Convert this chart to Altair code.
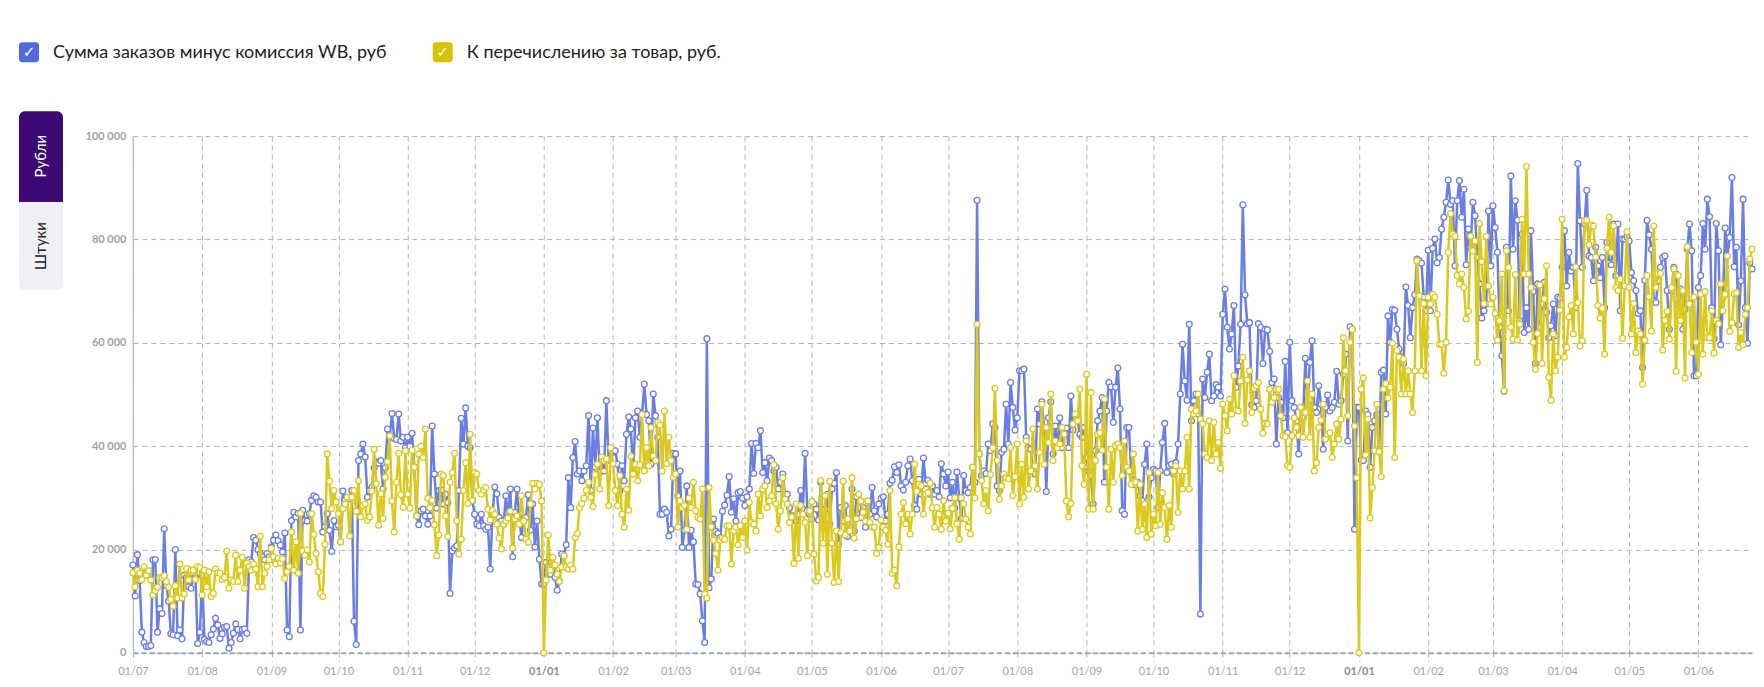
import altair as alt
import pandas as pd

BLUE = "#6b7ee3"
YELLOW = "#dcc91d"
GRID = "#a9b5bd"
FONT = "Lato, Noto Sans, sans-serif"

SERIES_BLUE = "Сумма заказов минус комиссия WB, руб"
SERIES_YEL = "К перечислению за товар, руб."

# daily values, thousands of rubles
blue_2022_07 = [17, 11, 19, 14, 4, 2, 1.2, 1.2, 1.4, 18, 18, 4, 8.5, 7.6, 24, 13, 10, 3.7, 3.5, 20, 3.3, 4.4, 2.7, 15, 14.6, 12.8, 12.5, 14.4, 14.6, 1.8, 4]
yel_2022_07 = [15.5, 12.8, 16, 15.4, 14.2, 16.7, 15, 15.9, 14.1, 11.2, 12, 12.7, 14.6, 14.6, 14.9, 13.8, 12.7, 10.3, 9, 13, 10.6, 17.2, 10.6, 11.4, 16.3, 14.1, 16, 16, 14.2, 16.7, 16.5]
blue_2022_08 = [15, 2.6, 2.2, 2, 3.5, 4.6, 6.7, 5.4, 2.8, 3.7, 5, 5.1, 0.9, 2, 3.8, 5.6, 4.5, 2.7, 4.5, 4.6, 3.8, 18, 17.6, 22.3, 21.8, 20, 19.2, 18.6, 18, 19.2, 18.6]
yel_2022_08 = [11.2, 16, 12.8, 15.7, 10.9, 11.5, 16.2, 15.5, 15.4, 14.2, 14.6, 19.7, 12.5, 14.1, 13.8, 18.9, 13.8, 16, 18.5, 12.5, 17.4, 16.7, 16, 17.2, 16.2, 12.8, 22.6, 12.8, 15.4, 16.7, 18]
blue_2022_09 = [20.5, 21.8, 22.8, 21.7, 20.8, 19.5, 23.2, 4.4, 3.1, 25.6, 27.2, 26.3, 27, 4.4, 27.6, 25.6, 25.5, 26.9, 29.5, 30.4, 30.1, 29.2, 29.2, 23.4, 24.4, 26.9, 23.7, 19.6, 25.6, 24.4]
yel_2022_09 = [20.2, 18.6, 17.2, 18.3, 17.4, 18.2, 14.4, 15.7, 16.7, 23.4, 16, 21.5, 15.4, 27, 19.7, 18.9, 19.9, 17.6, 26.9, 22.9, 19.2, 15.7, 11.5, 10.9, 21, 38.5, 33.2, 27.9, 31.4, 29.2]
blue_2022_10 = [24.7, 21.5, 31.3, 29.5, 30.1, 29.8, 31.4, 6.1, 1.6, 37.2, 38.5, 40.4, 37.9, 30.1, 31.4, 32.1, 35.8, 36.9, 36.7, 37.2, 31.7, 35.8, 43.3, 42, 46.3, 41.5, 41.3, 46.2, 41, 41.7, 39.7]
yel_2022_10 = [26.9, 21.5, 27.9, 28.8, 30.1, 22.6, 30.1, 31.4, 27.4, 33.3, 26.3, 28.5, 28.8, 25.6, 26.3, 31.3, 39.4, 32.7, 24.7, 30.8, 26, 34, 37, 42, 29.4, 23.4, 33, 38.6, 30.6, 28.2, 39.1]
blue_2022_11 = [41.7, 40, 42.5, 35.9, 26.5, 24.8, 27.5, 27.8, 26.5, 24.9, 26.5, 43.9, 34.6, 28, 31.4, 31.5, 28.8, 30.7, 29.1, 11.5, 19.7, 20.3, 20.7, 31.4, 45.4, 40.4, 47.4, 40, 39.7, 29.4]
yel_2022_11 = [30.7, 28, 39.2, 35.9, 26.5, 38.5, 40, 37.8, 43.3, 29.9, 28.1, 29.5, 24.8, 18.8, 22.8, 34.6, 34.3, 26.5, 22.5, 33, 34.9, 38.6, 25.5, 19.1, 22, 31.4, 36.8, 28.9, 42.3, 29.5]
blue_2022_12 = [26.8, 24.9, 24.6, 26.8, 24.6, 23.9, 24.3, 16.2, 26.8, 32.1, 30.8, 26.2, 25.5, 24.9, 30.4, 26.2, 31.7, 18.6, 27.2, 31.7, 26.2, 22.3, 25.9, 26.2, 30.6, 23.7, 28.8, 20.5, 25.5, 18.1, 13.3]
yel_2022_12 = [34.9, 34.6, 31.4, 30.7, 31.5, 32, 27.8, 25.7, 27.6, 26.8, 24.9, 22.2, 20.1, 24.9, 25.5, 26.1, 27.4, 20.3, 25.9, 26.5, 24.9, 30.4, 25.5, 22, 21.4, 28.8, 32.8, 31.7, 32.8, 32.6, 29.4]
blue_2023_01 = [13.3, 17.5, 15.5, 15.2, 16.8, 14.6, 12.1, 13.9, 19.1, 18.8, 20.9, 33.9, 28.1, 37.8, 40.9, 34.6, 35.2, 33.3, 35.2, 36.2, 45.9, 31.4, 43.5, 35.9, 45.5, 34.9, 37.2, 35.2, 48.8, 37.3, 39.1]
yel_2023_01 = [0, 14.1, 22.8, 16, 18.5, 17, 15.2, 13.8, 16.6, 18.8, 16.5, 16.2, 17, 16.2, 22.3, 23.1, 28.1, 28.9, 29.9, 31.4, 33, 30.1, 28.3, 34.5, 36.5, 31.7, 37.9, 37.2, 37.5, 28.5, 39.7]
blue_2023_02 = [38.8, 39.1, 36.5, 31.4, 36.2, 33.3, 42.3, 45.7, 43.3, 34.6, 45.5, 46.8, 41.7, 46.2, 52, 46.1, 44.9, 36.5, 50.1, 45.9, 41.7, 26.8, 26.8, 27.8, 27.2, 22.6, 23.9, 38.6]
yel_2023_02 = [36.6, 31.4, 28.5, 34.3, 26.8, 24.3, 31.7, 27.6, 38.1, 34.6, 36.5, 33.3, 36.4, 46.1, 35.2, 39.7, 36.2, 43.6, 38.1, 37.2, 44.6, 44.1, 35.2, 46.8, 36.6, 41.7, 37.2, 34]
blue_2023_03 = [38.5, 30.4, 35.2, 20.4, 23.7, 32.3, 20.4, 23.7, 21.5, 13.3, 13.2, 11.4, 6.2, 2, 60.8, 12.6, 14.3, 25.9, 23.5, 23.1, 22.3, 27.4, 28.6, 30.5, 34.1, 27.2, 29.8, 25.5, 31, 31.2, 29.9]
yel_2023_03 = [34.6, 24.3, 29.4, 28.1, 28.5, 23.9, 29.9, 28.1, 33, 27.5, 26.2, 25.9, 31.7, 11.4, 10.6, 32, 24.4, 21.8, 19.2, 16, 21.8, 22.2, 22, 24.6, 24.6, 17.2, 23.6, 24.3, 20.9, 24.6, 22.3]
blue_2023_04 = [28.5, 30.2, 31.7, 40.5, 34.7, 40.5, 39.7, 43, 34.9, 36.8, 33.3, 37.7, 37.2, 35.2, 35.9, 31.7, 33, 34.6, 30.7, 30.7, 28.1, 25.7, 26.5, 25.5, 26.8, 31.4, 27.8, 38.6, 27.5, 26.8]
yel_2023_04 = [25.5, 19.9, 29.1, 25.2, 24.9, 23.6, 30.7, 26.5, 31.7, 32.3, 28.1, 29.4, 30.4, 36.4, 28.8, 23.9, 27.5, 33.9, 29.7, 28.8, 25.2, 26.3, 17.3, 28.8, 18.3, 28.5, 26.8, 25.2, 18.8, 27.5]
blue_2023_05 = [25.9, 28.8, 27.8, 25.7, 33, 24.3, 27.8, 30.7, 24.9, 31.7, 32.8, 34.9, 21, 28.1, 25.5, 28.5, 22.5, 24.3, 31.7, 23.6, 30.2, 28.1, 26.2, 28.1, 24.3, 27.6, 26.8, 32, 27.5, 26.3, 28.8]
yel_2023_05 = [29.3, 19.1, 13.9, 14.6, 33.4, 21.2, 30.4, 15.2, 33.2, 21.2, 13.6, 23.6, 13.8, 23.3, 33.2, 22.8, 25.9, 23.6, 33.9, 22.2, 25.9, 30.7, 29.4, 27.2, 25.5, 29.4, 25.2, 24.3, 24.3, 19.2, 20.4]
blue_2023_06 = [29.9, 30.2, 25.5, 26.8, 32.8, 33.4, 36, 34.9, 36.4, 32.3, 31.5, 33, 36.2, 37.5, 33.3, 28.5, 27.8, 33.6, 30.7, 37.7, 32.8, 33.4, 30.7, 32.3, 30.7, 31.4, 30.2, 36.6, 34.6, 32.3]
yel_2023_06 = [25.7, 24.3, 23.7, 21, 31.4, 15.4, 16, 13, 20.5, 26.8, 29.1, 25, 26.8, 23, 26.8, 36.5, 31.2, 32.6, 32.3, 26.8, 30.7, 31, 32.8, 28.1, 24.3, 28.1, 26.8, 23.9, 29.4, 25.5]
blue_2023_07 = [35, 30, 33, 28, 35, 30, 26, 34.3, 31.4, 31, 32, 35.9, 33, 87.6, 38.5, 34.3, 35.2, 34.7, 40.4, 39.1, 44.3, 43.6, 32.3, 31.4, 38.8, 39.4, 48.1, 40.4, 52.3, 47.5, 43.1]
yel_2023_07 = [27, 24, 28, 30, 25, 22, 30, 28.8, 25.9, 24.3, 23, 35.9, 30, 63.6, 38.5, 33.3, 28.8, 31.4, 27.5, 34.5, 39.7, 51.2, 37.2, 29.7, 32.3, 34.6, 33.9, 33.7, 39.7, 30.4, 34.1]
blue_2023_08 = [45.5, 54.6, 54.6, 54.9, 41.7, 39.7, 39.4, 35.2, 34.6, 47.2, 44.3, 48.6, 43.6, 31.2, 45.5, 48.6, 38.5, 43.9, 39.7, 45.5, 39.7, 42.3, 43.5, 39.7, 49.7, 43.1, 44.9, 45.5, 42.3, 41.7, 43.6]
yel_2023_08 = [40.4, 28.8, 36.5, 30.1, 41, 31.7, 35.2, 43.3, 36.2, 31.7, 38.8, 48.1, 36.5, 43.6, 40.7, 50.1, 37.2, 41, 39.7, 40.4, 43.6, 42.3, 29.4, 26.3, 28.9, 44.3, 46.2, 44.9, 51, 36.2, 32.6]
blue_2023_09 = [37.8, 35.2, 34.3, 28.8, 39.1, 44.9, 46.8, 49.4, 33, 46.8, 52.3, 51.5, 44.6, 51.4, 55.1, 47.2, 27.5, 26.8, 43.6, 43.6, 35.2, 33.3, 32.5, 33, 30.4, 29.4, 36.5, 40.4, 30.2, 33.9]
yel_2023_09 = [53.9, 27.8, 50.4, 27.8, 37.2, 42.3, 42.6, 39.2, 49.1, 35.9, 27.8, 39.4, 33, 40.1, 40.4, 39.7, 34.3, 41, 35.9, 35.2, 32.6, 38.5, 33, 23.6, 32.6, 23.9, 28.8, 22.3, 34.9, 23]
blue_2023_10 = [35.5, 35.2, 28.1, 35.2, 40.7, 44.4, 34.9, 36.2, 36.5, 34.6, 36.8, 40.4, 50.1, 59.7, 52.6, 48.9, 63.6, 44.9, 48.8, 50.1, 46.2, 7.5, 53, 49.4, 54.3, 57.8, 48.8, 49.7, 51.9, 51.4, 49.7]
yel_2023_10 = [26.8, 24.6, 34.9, 24.9, 31, 28.1, 22, 28.5, 24.3, 35.2, 36.2, 27.2, 35.2, 31.7, 35.2, 41.7, 31.7, 47.2, 46.2, 46.8, 50.1, 45.2, 44.3, 38.5, 37.8, 44.9, 37.2, 44.6, 38.5, 40.7, 35.7]
blue_2023_11 = [65.5, 70.4, 63, 58.8, 61.7, 67.2, 51.4, 55.5, 63.6, 86.7, 69.3, 63.7, 63.9, 48, 47.5, 48.8, 63.7, 63, 56, 62.6, 62.5, 58.3, 52.3, 53, 40.4, 49.4, 48.5, 45.5, 56.4, 42.6]
yel_2023_11 = [48.1, 45.9, 43, 49.1, 46.2, 53.6, 47, 46.8, 52.6, 57.2, 44.4, 52.8, 54.6, 46.5, 51.2, 51.7, 52.3, 47.2, 42.5, 44.4, 44.3, 51, 48.5, 49.4, 51, 51, 45.9, 42, 41.8, 36.2]
blue_2023_12 = [60.1, 48.8, 47.5, 44.8, 38.5, 47.5, 45.5, 57, 48.1, 56.2, 60.4, 47.5, 46.5, 51.7, 48.1, 39.4, 47.5, 49.9, 46.8, 47.5, 48.5, 54.5, 48.1, 48.8, 53.9, 57.8, 41, 63.1, 62.6, 23.9, 47.5]
yel_2023_12 = [35.9, 42, 45.5, 43.6, 42, 47.5, 41.7, 46.5, 52.6, 41.7, 50.1, 35.2, 36.8, 43.6, 45, 48.1, 41.4, 42.3, 42.6, 37.8, 40.4, 44.3, 41.4, 45.2, 61, 54.6, 45.9, 60.1, 62.6, 43.9, 33.9]
blue_2024_01 = [47.5, 37.3, 37.2, 46.8, 46.1, 35.9, 43.6, 44.9, 46.1, 39.1, 54.3, 54.7, 46.2, 65.2, 60.1, 66.5, 66.3, 62.6, 58.8, 57.2, 56, 70.8, 67.2, 61, 66.8, 69.3, 76.2, 75.9, 75.4, 68.8, 66.2]
yel_2024_01 = [0, 51, 53.2, 38.3, 45.2, 26.1, 32, 39.1, 48.1, 38.9, 34.1, 51, 52.1, 49.3, 51.4, 59.9, 37.8, 58.5, 57.2, 50.1, 56.8, 50.1, 54.6, 50.1, 46.5, 54.6, 75.9, 69.1, 54.6, 67.6, 53.6]
blue_2024_02 = [77.9, 66.2, 78.3, 80.1, 75.5, 76.5, 82, 84.3, 87.2, 91.5, 86.8, 87.5, 74.9, 87.5, 91.4, 84.3, 89.7, 75.1, 82, 78.5, 87.2, 84.6, 76.5, 71.4, 64.8, 66.2, 67.5, 85.5, 74.9]
yel_2024_02 = [68.8, 67.5, 69.4, 68.8, 65.5, 59.7, 59.7, 54.1, 60.1, 77.5, 85, 81, 80.6, 73, 71.4, 73.3, 70.7, 64.6, 66.1, 80.6, 77.8, 79.7, 56.2, 83.1, 75.7, 67.6, 80.6, 71, 67.5]
blue_2024_03 = [86.5, 82.3, 77.5, 63, 57.5, 50.6, 78.5, 66.2, 92.3, 78.1, 87.5, 83.7, 64.3, 81, 62, 66.8, 62.6, 81.7, 70, 56, 71.4, 63, 67.5, 71.7, 65.9, 61, 63.3, 67.5, 61.4, 68.8, 68.6]
yel_2024_03 = [68.8, 65.7, 60.5, 64.3, 73.3, 50.7, 77.8, 74.6, 63, 60.7, 73.2, 60.5, 63.6, 83.9, 73.3, 94.1, 73.3, 70.7, 60.1, 54.9, 61.8, 71.2, 56, 68.5, 74.9, 53.3, 48.9, 61.7, 54.6, 57.2, 66.3]
blue_2024_04 = [74.6, 81.7, 71, 77.5, 73.9, 74.6, 66.8, 94.7, 83.6, 74.6, 83, 89.5, 76.8, 76.5, 72, 78.5, 74.9, 72.6, 76.5, 66.8, 79.4, 75.4, 75.1, 83, 73, 83, 66.2, 80.1, 80.1, 80.5]
yel_2024_04 = [83.9, 57.2, 59.1, 65, 67.2, 61.7, 74.7, 67.8, 59.4, 60.4, 83.7, 83.7, 79, 82.8, 82.6, 76.6, 67.2, 64.8, 66.7, 57.8, 78.3, 84.3, 77.5, 82.6, 70.7, 70.1, 72.3, 60.9, 71, 81.5]
blue_2024_05 = [79.7, 73.6, 72, 70.1, 65.7, 66.2, 55.2, 72.1, 83.7, 80.9, 78.1, 68.1, 67.8, 72, 74.6, 76.5, 76.8, 70.1, 62.6, 70.1, 74.6, 73.3, 67.5, 70.4, 62.6, 66.5, 78.1, 83, 77.8, 53.6, 53.6]
yel_2024_05 = [70.7, 61.7, 67.6, 58.1, 62.3, 61.7, 52, 60.5, 73, 68.9, 62.3, 82.6, 70.7, 73.4, 73.4, 58.6, 64.3, 66.1, 60.7, 70.7, 74.3, 54.5, 73, 64.3, 70.1, 53.2, 78.6, 67.5, 58.1, 68.8, 60.1]
blue_2024_06 = [70.7, 73, 83.1, 78.1, 87.8, 84.4, 66.8, 60.8, 83.1, 77.8, 59.6, 68.8, 82.2, 76.8, 80.4, 92, 74.7, 78.5, 63.5, 72, 87.8, 66.8, 59.9, 75.5, 74.3]
yel_2024_06 = [53.9, 69.4, 57.8, 69.9, 61, 61, 66.2, 58, 64.3, 63.7, 71.4, 66.2, 69.4, 76.8, 62.2, 63.9, 69.5, 69.7, 59.1, 62, 59.6, 65.5, 66.8, 76.2, 78.1]

months = [
    ("2022-07-01", blue_2022_07, yel_2022_07), ("2022-08-01", blue_2022_08, yel_2022_08),
    ("2022-09-01", blue_2022_09, yel_2022_09), ("2022-10-01", blue_2022_10, yel_2022_10),
    ("2022-11-01", blue_2022_11, yel_2022_11), ("2022-12-01", blue_2022_12, yel_2022_12),
    ("2023-01-01", blue_2023_01, yel_2023_01), ("2023-02-01", blue_2023_02, yel_2023_02),
    ("2023-03-01", blue_2023_03, yel_2023_03), ("2023-04-01", blue_2023_04, yel_2023_04),
    ("2023-05-01", blue_2023_05, yel_2023_05), ("2023-06-01", blue_2023_06, yel_2023_06),
    ("2023-07-01", blue_2023_07, yel_2023_07), ("2023-08-01", blue_2023_08, yel_2023_08),
    ("2023-09-01", blue_2023_09, yel_2023_09), ("2023-10-01", blue_2023_10, yel_2023_10),
    ("2023-11-01", blue_2023_11, yel_2023_11), ("2023-12-01", blue_2023_12, yel_2023_12),
    ("2024-01-01", blue_2024_01, yel_2024_01), ("2024-02-01", blue_2024_02, yel_2024_02),
    ("2024-03-01", blue_2024_03, yel_2024_03), ("2024-04-01", blue_2024_04, yel_2024_04),
    ("2024-05-01", blue_2024_05, yel_2024_05), ("2024-06-01", blue_2024_06, yel_2024_06),
]


def build(idx, name):
    rows = []
    for start, b, yv in months:
        vals = (b, yv)[idx]
        s = pd.Timestamp(start)
        for i, v in enumerate(vals):
            rows.append({"date": s + pd.Timedelta(days=i), "series": name, "value": v * 1000})
    return pd.DataFrame(rows)


df_b = build(0, SERIES_BLUE)
df_y = build(1, SERIES_YEL)

tick_values = []
for yr, mo in [(2022, m) for m in range(7, 13)] + [(2023, m) for m in range(1, 13)] + [(2024, m) for m in range(1, 7)]:
    tick_values.append(alt.DateTime(year=yr, month=mo, date=1))

x_enc = alt.X(
    "date:T",
    title=None,
    scale=alt.Scale(domain=[alt.DateTime(year=2022, month=7, date=1), alt.DateTime(year=2024, month=6, date=25)]),
    axis=alt.Axis(
        values=tick_values, format="%d/%m", labelFont=FONT, labelFontSize=11,
        labelColor={"condition": {"test": "month(datum.value) === 0", "value": "#8c8c8c"}, "value": "#a3a3a3"},
        labelFontWeight={"condition": {"test": "month(datum.value) === 0", "value": "bold"}, "value": "normal"},
        grid=True, gridDash=[5, 4], gridColor=GRID, gridWidth=1,
        domainColor="#9aa8b0", domainDash=[5, 3], domainWidth=2,
        ticks=True, tickDash=[4, 4], tickColor=GRID, tickSize=9,
        labelPadding=4, labelOverlap=False, labelFlush=False,
    ),
)
y_enc = alt.Y(
    "value:Q",
    title=None,
    scale=alt.Scale(domain=[0, 100000], nice=False),
    axis=alt.Axis(
        values=[0, 20000, 40000, 60000, 80000, 100000],
        labelExpr="replace(format(datum.value, ','), ',', ' ')",
        labelFont=FONT, labelFontSize=11, labelFontWeight="bold", labelColor="#a3a3a3",
        grid=True, gridDash=[5, 4], gridColor=GRID, gridWidth=1,
        domain=True, domainColor="#b8c3c9", domainWidth=1.5, ticks=False, labelPadding=7,
    ),
)

line_b = alt.Chart(df_b).mark_line(color=BLUE, strokeWidth=2.5).encode(x=x_enc, y=y_enc)
pts_b = alt.Chart(df_b).mark_circle(color="white", stroke=BLUE, strokeWidth=1.3, size=34, opacity=1).encode(x=x_enc, y=y_enc)
line_y = alt.Chart(df_y).mark_line(color=YELLOW, strokeWidth=2.5).encode(x=x_enc, y=y_enc)
pts_y = alt.Chart(df_y).mark_circle(color="white", stroke=YELLOW, strokeWidth=1.3, size=34, opacity=1).encode(x=x_enc, y=y_enc)

one = pd.DataFrame({"k": [0]})


def rect(x, x2, y, y2, color, **kw):
    return alt.Chart(one).mark_rect(color=color, **kw).encode(
        x=alt.value(x), x2=alt.value(x2), y=alt.value(y), y2=alt.value(y2))


def text(t, x, y, **kw):
    return alt.Chart(one).mark_text(text=t, **kw).encode(x=alt.value(x), y=alt.value(y))


decor = [
    # legend
    rect(-114, -94, -94, -74, "#5468e0", cornerRadius=3),
    text("✓", -104, -84, font="DejaVu Sans", fontSize=15, color="white", align="center", baseline="middle"),
    text(SERIES_BLUE, -80, -83, font=FONT, fontSize=18, color="#222222", align="left", baseline="middle"),
    rect(300, 320, -94, -74, "#d7c300", cornerRadius=3),
    text("✓", 310, -84, font="DejaVu Sans", fontSize=15, color="white", align="center", baseline="middle"),
    text(SERIES_YEL, 334, -83, font=FONT, fontSize=18, color="#222222", align="left", baseline="middle"),
    # units toggle
    rect(-114, -70, -25, 66, "#3d0a73", cornerRadiusTopLeft=6, cornerRadiusTopRight=6),
    rect(-114, -70, 66, 154, "#f1eff5", cornerRadiusBottomLeft=6, cornerRadiusBottomRight=6),
    text("Рубли", -92, 20, font=FONT, fontSize=15, color="white", angle=270, align="center", baseline="middle"),
    text("Штуки", -92, 110, font=FONT, fontSize=15, color="#222222", angle=270, align="center", baseline="middle"),
]

chart = alt.layer(line_b, pts_b, line_y, pts_y, *decor).properties(
    width=1620,
    height=517,
    autosize=alt.AutoSizeParams(type="none"),
    padding={"left": 125, "top": 128, "right": 4, "bottom": 30},
    background="white",
).configure_view(stroke=None)

chart.save("out.html", embed_options={"renderer": "svg", "actions": False})
